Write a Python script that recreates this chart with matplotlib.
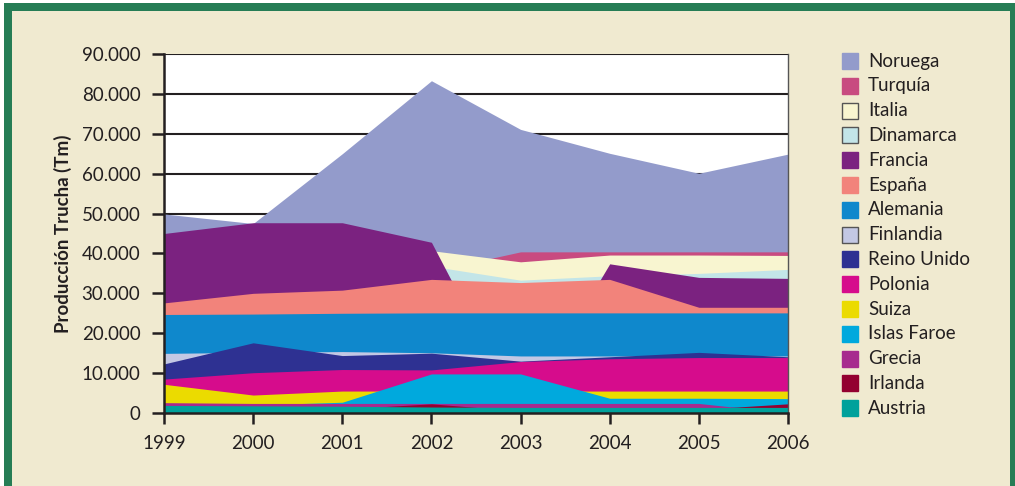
import matplotlib.pyplot as plt
from matplotlib.patches import Rectangle
from matplotlib.ticker import FuncFormatter

plt.rcParams['font.family'] = ['Lato', 'DejaVu Sans']

# Datos (Tm)
anios = [1999, 2000, 2001, 2002, 2003, 2004, 2005, 2006]
noruega = [49900, 47500, 65000, 83300, 71100, 65100, 60100, 64900]
turquia = [30000, 31000, 33000, 35500, 40400, 40400, 40400, 40400]
italia = [38000, 39000, 40000, 40700, 37900, 39600, 39600, 39500]
dinamarca = [35000, 36000, 36500, 36800, 33300, 34400, 35000, 36000]
francia = [45000, 47700, 47700, 42800, 0, 37400, 34000, 33750]
espana = [27600, 30000, 30800, 33500, 32700, 33500, 26500, 26500]
alemania = [24700, 24800, 25000, 25100, 25100, 25100, 25100, 25100]
finlandia = [14950, 15200, 15400, 15100, 14300, 14300, 14400, 14300]
reino_unido = [12300, 17600, 14400, 15000, 13000, 14100, 15200, 14100]
polonia = [8500, 10100, 10900, 10800, 12900, 13600, 13900, 13900]
suiza = [7200, 4500, 5500, 5500, 5500, 5500, 5500, 5500]
islas_faroe = [1500, 2000, 2700, 9800, 9800, 3700, 3700, 3600]
grecia = [2600, 2400, 2400, 2400, 2400, 2400, 2400, 0]
irlanda = [1000, 1000, 1000, 2300, 500, 600, 900, 2300]
austria = [1900, 1800, 1700, 1500, 1400, 1400, 1400, 1400]

paises = ['Noruega', 'Turquía', 'Italia', 'Dinamarca', 'Francia', 'España',
          'Alemania', 'Finlandia', 'Reino Unido', 'Polonia', 'Suiza',
          'Islas Faroe', 'Grecia', 'Irlanda', 'Austria']
series = [noruega, turquia, italia, dinamarca, francia, espana, alemania,
          finlandia, reino_unido, polonia, suiza, islas_faroe, grecia,
          irlanda, austria]
colores = ['#939BCB', '#C84B80', '#F8F5D0', '#C3E5E8', '#7B2280', '#F2837B',
           '#0F88CC', '#C3C8E4', '#2E3192', '#D60C8C', '#EBDB00', '#00A9DD',
           '#A72A8E', '#930030', '#00A19B']

W, H = 1015, 486
tinta = '#231F20'
crema = '#F0EAD0'
verde = '#267D55'

fig = plt.figure(figsize=(W / 100, H / 100), dpi=100, facecolor='white')


def caja(x0, y0, x1, y1, color):
    # rectangulo en pixeles (origen arriba a la izquierda)
    fig.add_artist(Rectangle((x0 / W, 1 - y1 / H), (x1 - x0) / W, (y1 - y0) / H,
                             transform=fig.transFigure, facecolor=color,
                             edgecolor='none', zorder=-10))


# marco verde y fondo crema
caja(4, 3, W, H, verde)
caja(12, 11, 1010, H, crema)

ax = fig.add_axes([164 / W, 1 - 413 / H, 624 / W, 359 / H])
ax.set_facecolor('white')

# areas superpuestas (no apiladas): la primera queda al fondo
for vals, col in zip(series, colores):
    ax.fill_between(anios, 0, vals, color=col, lw=0, zorder=2)

ax.set_xlim(1999, 2006)
ax.set_ylim(0, 90000)
ax.set_xticks(anios)
ax.set_yticks(range(0, 90001, 10000))
ax.yaxis.set_major_formatter(FuncFormatter(lambda v, p: f'{int(v):,}'.replace(',', '.')))
ax.grid(axis='y', color=tinta, lw=1.5, zorder=1)
ax.set_axisbelow(True)

for lado in ['left', 'bottom']:
    ax.spines[lado].set_color(tinta)
    ax.spines[lado].set_linewidth(1.8)
    ax.spines[lado].set_zorder(5)
ax.spines['top'].set_visible(False)
ax.spines['right'].set_color('#555555')
ax.spines['right'].set_linewidth(1.0)
ax.spines['right'].set_zorder(5)

ax.tick_params(axis='y', length=9, width=1.8, color=tinta, pad=8,
               labelsize=13.5, labelcolor=tinta)
ax.tick_params(axis='x', length=8, width=1.8, color=tinta, pad=8,
               labelsize=13.5, labelcolor=tinta)

ax.set_ylabel('Producción Trucha (Tm)', fontsize=13.5, fontweight='bold',
              color=tinta)
ax.yaxis.set_label_coords(-0.147, 0.5)

# leyenda manual
for i, (nombre, col) in enumerate(zip(paises, colores)):
    yc = 61 + i * 24.8
    borde = '#555555' if nombre in ('Italia', 'Dinamarca', 'Finlandia') else col
    fig.add_artist(Rectangle((842 / W, 1 - (yc + 8) / H), 16 / W, 16 / H,
                             transform=fig.transFigure, facecolor=col,
                             edgecolor=borde, lw=1.0))
    fig.text(868 / W, 1 - yc / H, nombre, fontsize=13.5, color=tinta,
             va='center', ha='left')

fig.savefig('out.png', dpi=100, facecolor=fig.get_facecolor())
